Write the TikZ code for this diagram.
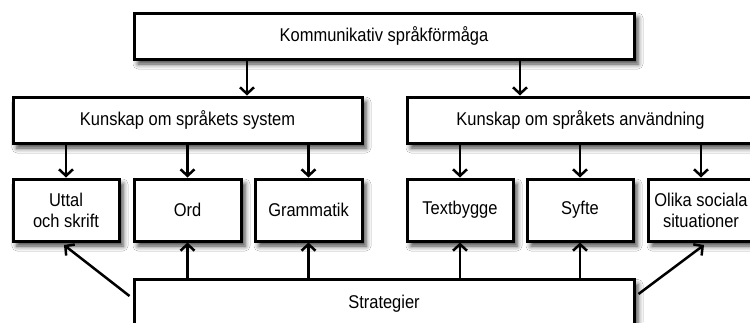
\documentclass[tikz,border=0pt]{standalone}
\usepackage{fontspec}
\setmainfont{Liberation Sans}[FakeStretch=0.89]
\usetikzlibrary{arrows.meta,shadows.blur}
\begin{document}
\begin{tikzpicture}[x=1pt,y=-1pt,
  box/.style={draw=black, line width=3pt, fill=white, rectangle, inner sep=0pt,
    align=center, font=\fontsize{18.5}{21}\selectfont,
    blur shadow={shadow xshift=4pt, shadow yshift=-5pt, shadow blur radius=5pt, shadow opacity=75}},
  arr/.style={line width=2.5pt, -{Straight Barb[length=6.5pt,width=14pt,line width=2.5pt]}}]
\useasboundingbox (0,0) rectangle (750,322);
\clip (0,0) rectangle (750,322);
\fill[white] (0,0) rectangle (750,322);
% top
\node[box, minimum width=500pt, minimum height=46pt] (top) at (384,36) {Kommunikativ språkförmåga};
% middle
\node[box, minimum width=349pt, minimum height=46pt] (midL) at (187.5,120) {Kunskap om språkets system};
\node[box, minimum width=347pt, minimum height=46pt] (midR) at (580.5,120) {Kunskap om språkets användning};
% bottom row
\node[box, minimum width=106pt, minimum height=62pt] (uttal) at (66,210) {Uttal\\och skrift};
\node[box, minimum width=107pt, minimum height=62pt] (ord) at (187.5,210) {Ord};
\node[box, minimum width=107pt, minimum height=62pt] (gram) at (308.5,210) {Grammatik};
\node[box, minimum width=106pt, minimum height=62pt] (text) at (460,210) {Textbygge};
\node[box, minimum width=106pt, minimum height=62pt] (syfte) at (580,210) {Syfte};
\node[box, minimum width=106pt, minimum height=62pt] (olika) at (701,210) {Olika sociala\\situationer};
% strategier
\node[box, minimum width=500pt, minimum height=60pt, text depth=0pt, anchor=north] (strat) at (384,278) {};
\node[font=\fontsize{18.5}{21}\selectfont] (stext) at (384,304) {Strategier};
% arrows down
\draw[arr] (top.south -| 247,0) -- (midL.north -| 247,0);
\draw[arr] (top.south -| 520,0) -- (midR.north -| 520,0);
\draw[arr] (midL.south -| uttal.north) -- (uttal.north);
\draw[arr] (midL.south -| ord.north) -- (ord.north);
\draw[arr] (midL.south -| gram.north) -- (gram.north);
\draw[arr] (midR.south -| text.north) -- (text.north);
\draw[arr] (midR.south -| syfte.north) -- (syfte.north);
\draw[arr] (midR.south -| olika.north) -- (olika.north);
% arrows up
\draw[arr] (strat.north -| ord.south) -- (ord.south);
\draw[arr] (strat.north -| gram.south) -- (gram.south);
\draw[arr] (strat.north -| text.south) -- (text.south);
\draw[arr] (strat.north -| syfte.south) -- (syfte.south);
% diagonals
\coordinate (ul) at (64,245);
\coordinate (or) at (704,245);
\draw[arr] ([xshift=-3pt]strat.west |- 0,296) -- (ul);
\draw[arr] ([xshift=3pt]strat.east |- 0,294) -- (or);
\end{tikzpicture}
\end{document}
